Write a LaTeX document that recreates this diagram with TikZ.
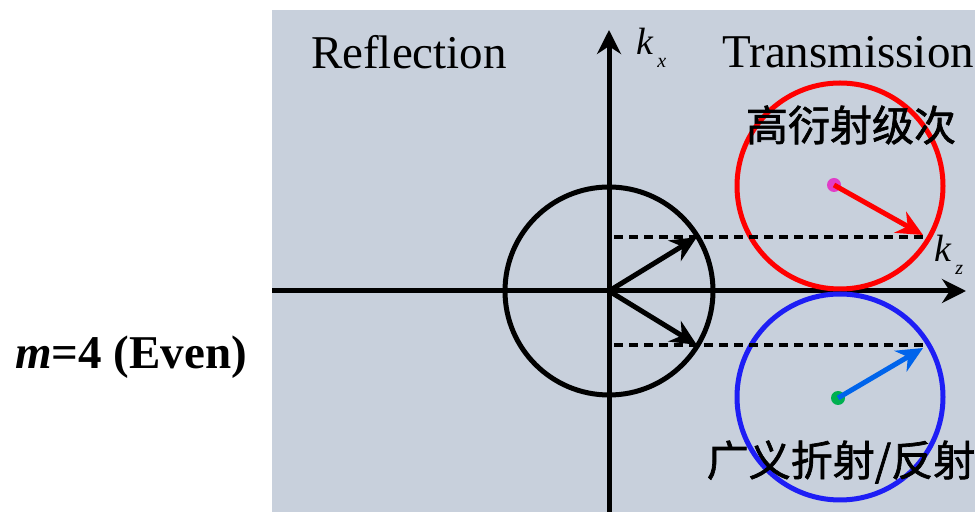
\documentclass[tikz,border=0pt]{standalone}
\usepackage{fontspec}
\setmainfont{Liberation Serif}
\newfontfamily\cjk[FakeBold=1.6]{Noto Sans CJK SC}
\usetikzlibrary{arrows.meta,positioning,calc}
\definecolor{panelgrey}{RGB}{200,208,220}
\definecolor{ringred}{RGB}{255,0,0}
\definecolor{ringblue}{RGB}{30,30,245}
\definecolor{vecblue}{RGB}{0,100,235}
\definecolor{dotpink}{RGB}{225,60,200}
\definecolor{dotgreen}{RGB}{0,176,80}
\tikzset{
  axis/.style={line width=2.5pt, -{Stealth[length=12pt,width=12pt]}},
  vec/.style={line width=2.5pt, -{Stealth[length=13pt,width=12pt]}},
  guide/.style={line width=1.6pt, dash pattern=on 4.5pt off 3pt},
  ring/.style={circle, draw=#1, line width=2.5pt, inner sep=0pt, minimum size=103pt},
  centre/.style={circle, fill=#1, inner sep=0pt, minimum size=7pt},
  big/.style={font=\fontsize{23.5}{26}\selectfont, inner sep=0pt},
  cjklbl/.style={font=\cjk\fontsize{21}{24}\selectfont, inner sep=0pt},
}
\newcommand{\kvec}[1]{{\fontsize{19}{19}\selectfont\itshape k}\hspace{2pt}\raisebox{-6.5pt}{\fontsize{10}{10}\selectfont\itshape #1}}

\begin{document}
\begin{tikzpicture}[x=0.5pt,y=-0.5pt]
  \useasboundingbox (0,0) rectangle (980,512);
  \fill[panelgrey] (272,10) rectangle (975,512);
  % axes
  \coordinate (O) at (609,291);
  \coordinate (xl) at (272,291);
  \coordinate (xr) at (966,291);
  \coordinate (yb) at (609,512);
  \coordinate (yt) at (609,30);
  \draw[axis] (xl) -- (xr);
  \draw[axis] (yb) -- (yt);
  \node[anchor=base west, inner sep=0pt] (kx) at (636,55) {\kvec{x}};
  \node[anchor=base west, inner sep=0pt] (kz) at (934,262) {\kvec{z}};
  % incident circle and wave vectors
  \node[ring=black, minimum size=104pt] (inc) at (O) {};
  \coordinate (up) at ($(O)+(-31.5:103)$);
  \coordinate (dn) at ($(O)+(31.5:103)$);
  \draw[vec] (O) -- (up);
  \draw[vec] (O) -- (dn);
  % diffraction circles
  \node[ring=ringred] (hi) at (840,186) {};
  \node[ring=ringblue] (lo) at (840,397) {};
  \node[centre=dotpink] (hic) at (834,185) {};
  \node[centre=dotgreen] (loc) at (838,398) {};
  \coordinate (hit) at (923,235);
  \coordinate (lot) at (923,348);
  \draw[vec, ringred] (hic.center) -- (hit);
  \draw[vec, vecblue] (loc.center) -- (lot);
  % guides
  \coordinate (g1) at (614,237);
  \coordinate (g2) at (614,345);
  \draw[guide] (g1) -- (g1 -| hit);
  \draw[guide] (g2) -- (g2 -| lot);
  % labels
  \node[big] (refl) at (409,52) {Reflection};
  \node[big, anchor=west] (trans) at (722,52) {Transmission};
  \node[cjklbl] (hilbl) at (851,125) {高衍射级次};
  \node[cjklbl] (lolbl) at (841,462) {广义折射/反射};
  \node[big, font=\bfseries\fontsize{23.5}{26}\selectfont] (mode) at (131,357) {\textit{m}=4 (Even)};
\end{tikzpicture}
\end{document}
